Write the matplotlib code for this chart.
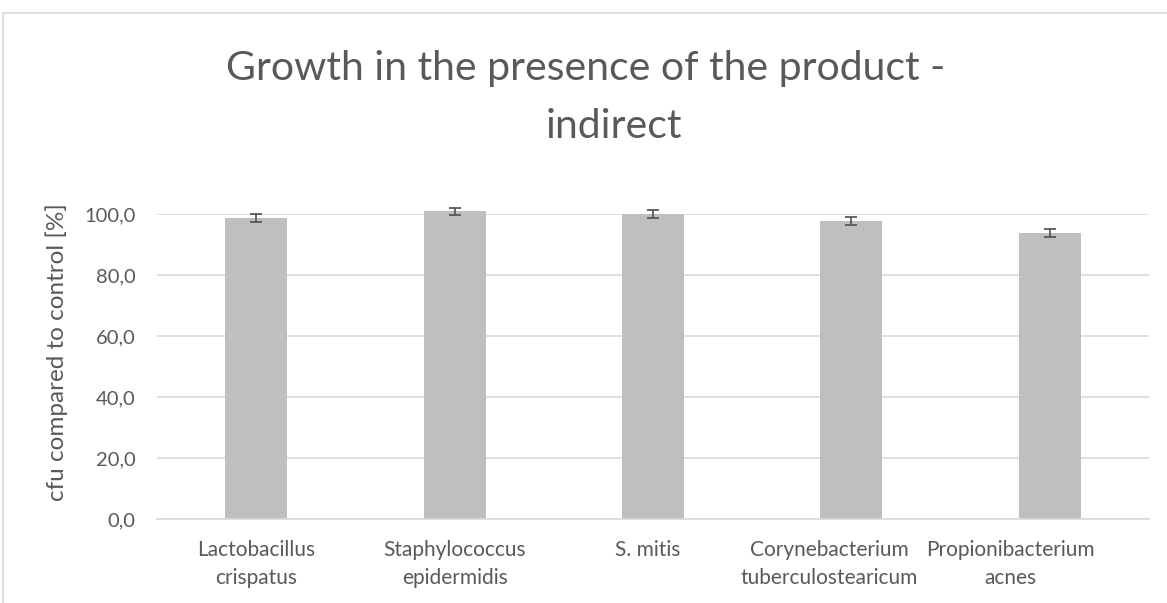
import matplotlib.pyplot as plt
from matplotlib.patches import Rectangle
from matplotlib.transforms import blended_transform_factory, offset_copy
import numpy as np

# data
categories = ["Lactobacillus\ncrispatus", "Staphylococcus\nepidermidis", "S. mitis",
              "Corynebacterium\ntuberculostearicum", "Propionibacterium\nacnes"]
values = [98.8, 101.0, 100.1, 97.8, 93.9]
errors = [1.2, 1.2, 1.2, 1.2, 1.2]
y_ticks = [0, 20, 40, 60, 80, 100]
y_tick_labels = ["0,0", "20,0", "40,0", "60,0", "80,0", "100,0"]

text_col = "#595959"
plt.rcParams['font.family'] = ['Lato', 'DejaVu Sans']

fig = plt.figure(figsize=(11.67, 6.03), dpi=100)
W, H = 1167, 603

# outer chart border (runs off the right/bottom edge)
fig.patches.append(Rectangle((2.5 / W, -0.1), 1.2, 1 - 12.5 / H + 0.1,
                             transform=fig.transFigure, fill=False,
                             edgecolor="#d9d9d9", linewidth=1.2))

ax = fig.add_axes([157 / W, 1 - 519.3 / H, (1149 - 157) / W, (519.3 - 214.3) / H])

x = np.arange(len(categories))
bars = ax.bar(x, values, width=0.312, color="#bfbfbf", zorder=2)
for b in bars:
    b.set_clip_on(False)
ax.errorbar(x, values, yerr=errors, fmt="none", ecolor="#595959",
            elinewidth=1.3, capsize=4.5, capthick=1.3, zorder=3, clip_on=False)

ax.set_xlim(-0.5, len(categories) - 0.5)
ax.set_ylim(0, 100)
ax.set_yticks(y_ticks)
ax.set_yticklabels(y_tick_labels)
ax.set_xticks(x)
ax.set_xticklabels([])

# category labels; Excel nudges the right-hand ones leftwards
label_shift_px = [0, 0, -5, -22, -39]
base = blended_transform_factory(ax.transData, ax.transAxes)
for xi, lbl, dx in zip(x, categories, label_shift_px):
    tr = offset_copy(base, fig=fig, x=dx, y=-21, units="dots")
    ax.text(xi, 0, lbl, transform=tr, ha="center", va="top", fontsize=15,
            color=text_col, linespacing=1.5, clip_on=False)

ax.grid(axis="y", color="#d9d9d9", linewidth=1.2, zorder=0)
ax.set_axisbelow(True)
for s in ["top", "right", "left"]:
    ax.spines[s].set_visible(False)
ax.spines["bottom"].set_color("#d9d9d9")
ax.spines["bottom"].set_linewidth(1.2)
ax.tick_params(axis="y", length=0, labelsize=14.5, colors=text_col, pad=15.5)
ax.tick_params(axis="x", length=0)

fig.text(57 / W, 1 - 352 / H, "cfu compared to control [%]", rotation=90,
         ha="center", va="center", fontsize=17.5, color=text_col)

fig.text(586 / W, 1 - 80 / H, "Growth in the presence of the product -",
         ha="center", va="baseline", fontsize=29.5, color=text_col)
fig.text(614 / W, 1 - 138 / H, "indirect",
         ha="center", va="baseline", fontsize=29.5, color=text_col)

fig.savefig("out.png", dpi=100)
